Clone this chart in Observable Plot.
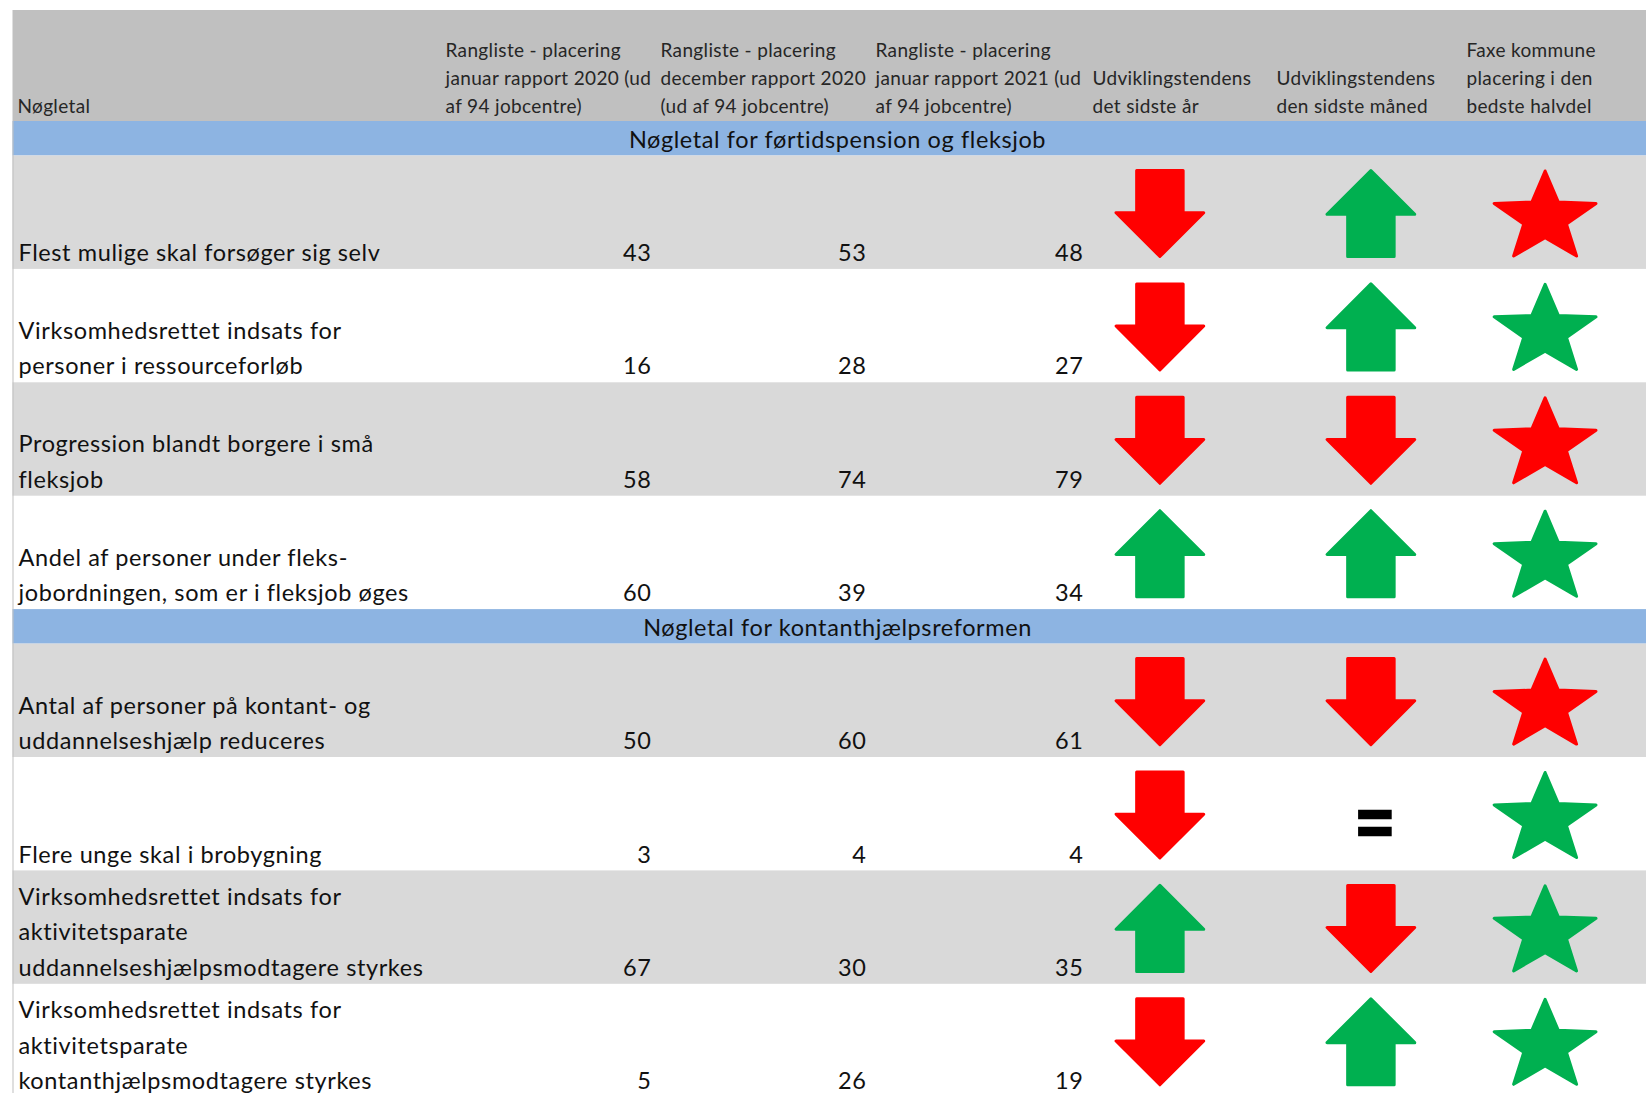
<!DOCTYPE html>
<html><head><meta charset="utf-8">
<script src="https://cdn.jsdelivr.net/npm/d3@7"></script>
<script src="https://cdn.jsdelivr.net/npm/@observablehq/plot@0.6"></script>
<style>body{margin:0;background:#fff}</style>
</head><body><div id="chart"></div>
<script>
// ---- data ----
const headers = ["Nøgletal",
  "Rangliste - placering\njanuar rapport 2020 (ud\naf 94 jobcentre)",
  "Rangliste - placering\ndecember rapport 2020\n(ud af 94 jobcentre)",
  "Rangliste - placering\njanuar rapport 2021 (ud\naf 94 jobcentre)",
  "Udviklingstendens\ndet sidste år",
  "Udviklingstendens\nden sidste måned",
  "Faxe kommune\nplacering i den\nbedste halvdel"];
const sections = ["Nøgletal for førtidspension og fleksjob", "Nøgletal for kontanthjælpsreformen"];
const indicators = ["Flest mulige skal forsøger sig selv",
  "Virksomhedsrettet indsats for\npersoner i ressourceforløb",
  "Progression blandt borgere i små\nfleksjob",
  "Andel af personer under fleks-\njobordningen, som er i fleksjob øges",
  "Antal af personer på kontant- og\nuddannelseshjælp reduceres",
  "Flere unge skal i brobygning",
  "Virksomhedsrettet indsats for\naktivitetsparate\nuddannelseshjælpsmodtagere styrkes",
  "Virksomhedsrettet indsats for\naktivitetsparate\nkontanthjælpsmodtagere styrkes"];
const indicatorSection = [0,0,0,0,1,1,1,1];
const rankJan2020 = [43,16,58,60,50,3,67,5];
const rankDec2020 = [53,28,74,39,60,4,30,26];
const rankJan2021 = [48,27,79,34,61,4,35,19];
const trendYear  = ["down","down","down","up","down","down","up","down"];
const trendMonth = ["up","up","down","up","down","equal","down","up"];
const bestHalf   = [false,true,false,true,false,true,true,true];

// ---- layout ----
const W = 1646, H = 1093;
const L = {left: 12.5, headTop: 10, headBottom: 121, bandH: 34.5, rowH: 113.4,
  textX: [17, 445, 660, 875, 1092, 1276, 1466], numRight: [651, 866, 1083],
  iconX: [1159.4, 1370.4, 1544.6], headBase: 112, labelPad: 8.4, bandBase: 26,
  bandCenter: 837, iconDy: 57.5};
const bandTop = s => L.headBottom + s * (L.bandH + 4 * L.rowH);
const rowTop = i => L.headBottom + (indicatorSection[i] + 1) * L.bandH + i * L.rowH;
const RED = "#FF0000", GREEN = "#00B050";

// ---- symbols ----
function arrow(dir) {
  return {draw(ctx, size) {
    const r = Math.sqrt(size / Math.PI);
    const hw = r * 1.02, sw = hw * 0.53, s = dir;
    const y0 = -r * s, yj = (-r + 2 * r * 0.49) * s, y1 = r * s;
    ctx.moveTo(-sw, y0); ctx.lineTo(sw, y0); ctx.lineTo(sw, yj); ctx.lineTo(hw, yj);
    ctx.lineTo(0, y1); ctx.lineTo(-hw, yj); ctx.lineTo(-sw, yj); ctx.closePath();
  }};
}
const arrowDown = arrow(1), arrowUp = arrow(-1);
const star = {draw(ctx, size) {
  const R = Math.sqrt(size / Math.PI), ri = R * 0.42, off = 0.0955 * R;
  for (let i = 0; i < 10; i++) {
    const a = i * Math.PI / 5, rr = i % 2 ? ri : R;
    const x = Math.sin(a) * rr * 1.139, y = -Math.cos(a) * rr + off;
    i ? ctx.lineTo(x, y) : ctx.moveTo(x, y);
  }
  ctx.closePath();
}};
const equals = {draw(ctx, size) {
  const r = Math.sqrt(size / Math.PI), bh = 0.565 * r, g = 0.435 * r;
  ctx.rect(-r, -g / 2 - bh, 2 * r, bh);
  ctx.rect(-r, g / 2, 2 * r, bh);
}};

// ---- tables ----
const rows = indicators.map((label, i) => ({i, label, top: rowTop(i)}));
const nums = [];
[rankJan2020, rankDec2020, rankJan2021].forEach((arr, c) => arr.forEach((v, i) => nums.push({c, i, v})));
const icons = [];
rows.forEach(({i}) => {
  icons.push({c: 0, i, kind: trendYear[i], color: trendYear[i] === "up" ? GREEN : RED});
  icons.push({c: 1, i, kind: trendMonth[i], color: trendMonth[i] === "up" ? GREEN : trendMonth[i] === "down" ? RED : "#000"});
  icons.push({c: 2, i, kind: "star", color: bestHalf[i] ? GREEN : RED});
});
const iconMark = (kind, symbol, r, extra = {}) => Plot.dot(icons.filter(d => d.kind === kind), {
  x: d => L.iconX[d.c] + (extra.dx || 0), y: d => rowTop(d.i) + L.iconDy + (extra.dy || 0),
  symbol, r, fill: d => d.color, stroke: d => d.color, strokeWidth: extra.sw ?? 3,
  strokeLinejoin: "round"
});

const plot = Plot.plot({
  width: W, height: H, margin: 0,
  x: {domain: [0, W], range: [0, W], axis: null},
  y: {domain: [0, H], range: [0, H], axis: null},
  color: {type: "identity"},
  style: {fontFamily: "Lato, 'Open Sans', sans-serif", background: "#fff", overflow: "hidden"},
  marks: [
    Plot.rect([0], {x1: L.left, x2: W, y1: L.headTop, y2: L.headBottom, fill: "#C0C0C0"}),
    Plot.rect(sections, {x1: L.left, x2: W, y1: (d, s) => bandTop(s), y2: (d, s) => bandTop(s) + L.bandH, fill: "#8DB4E2"}),
    Plot.rect(rows.filter(d => d.i % 2 === 0), {x1: L.left, x2: W, y1: d => d.top, y2: d => d.top + L.rowH, fill: "#D9D9D9"}),
    Plot.ruleX([L.left], {y1: L.headBottom, y2: H, stroke: "#BFBFBF", strokeWidth: 1}),
    Plot.text(headers, {x: (d, k) => L.textX[k], y: L.headBase, text: d => d, textAnchor: "start",
      lineAnchor: "bottom", lineHeight: 1.473, fontSize: 19, fill: "#262626"}),
    Plot.text(sections, {x: L.bandCenter, y: (d, s) => bandTop(s) + L.bandBase, text: d => d,
      textAnchor: "middle", lineAnchor: "bottom", fontSize: 23.5, fill: "#111"}),
    Plot.text(rows, {x: L.textX[0] + 1, y: d => d.top + L.rowH - L.labelPad, text: "label", textAnchor: "start",
      lineAnchor: "bottom", lineHeight: 1.51, fontSize: 23.5, fill: "#111"}),
    Plot.text(nums, {x: d => L.numRight[d.c], y: d => rowTop(d.i) + L.rowH - L.labelPad, text: d => String(d.v),
      textAnchor: "end", lineAnchor: "bottom", fontSize: 23.5, fill: "#111"}),
    iconMark("down", arrowDown, 43),
    iconMark("up", arrowUp, 43),
    iconMark("star", star, 47),
    iconMark("equal", equals, 16.8, {dx: 4, dy: 8, sw: 0})
  ]
});
const tg = plot.querySelectorAll('g[aria-label="text"]');
const spacing = ["0.35px", "0.6px", "0.6px", "0.6px"];
tg.forEach((g, k) => g.style.letterSpacing = spacing[k] || "0px");
document.getElementById("chart").append(plot);
</script>
</body></html>
